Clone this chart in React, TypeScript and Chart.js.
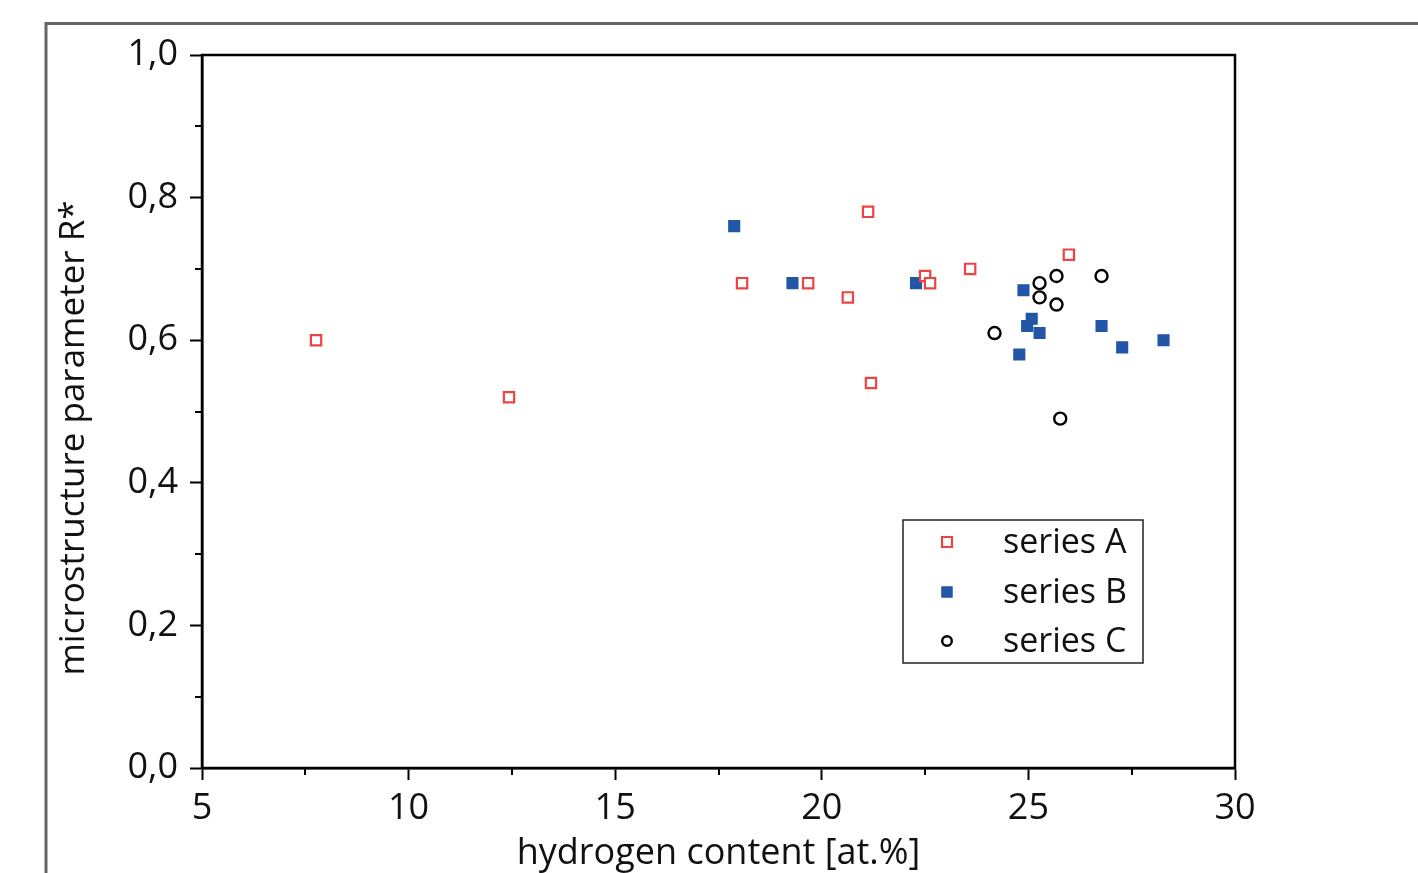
import React, { useEffect, useRef } from "react";
import { Chart, registerables } from "chart.js";

Chart.register(...registerables);

const seriesNames = ["series A", "series B", "series C"];
const seriesAX = [7.76, 12.43, 18.07, 19.67, 20.63, 21.12, 21.19, 22.5, 22.62, 23.59, 25.98];
const seriesAY = [0.6, 0.52, 0.68, 0.68, 0.66, 0.78, 0.54, 0.69, 0.68, 0.7, 0.72];
const seriesBX = [17.88, 19.29, 22.28, 24.88, 25.08, 24.97, 25.27, 24.78, 26.77, 27.27, 28.27];
const seriesBY = [0.76, 0.68, 0.68, 0.67, 0.63, 0.62, 0.61, 0.58, 0.62, 0.59, 0.6];
const seriesCX = [24.18, 25.27, 25.27, 25.68, 25.68, 26.77, 25.77];
const seriesCY = [0.61, 0.68, 0.66, 0.69, 0.65, 0.69, 0.49];

const xTitle = "hydrogen content [at.%]";
const yTitle = "microstructure parameter R*";
const xMin = 5, xMax = 30, xStep = 5, xMinorStep = 2.5;
const yMin = 0, yMax = 1, yStep = 0.2, yMinorStep = 0.1;

const FONT = "'Open Sans', 'Noto Sans', sans-serif";
const RED = "#ee4343";
const BLUE = "#2256a6";

const toPts = (xs: number[], ys: number[]) => xs.map((x, i) => ({ x, y: ys[i] }));

const decorPlugin = {
  id: "decor",
  afterDraw(chart: any) {
    const { ctx, chartArea } = chart;
    const { left, right, top, bottom } = chartArea;
    const xs = chart.scales.x;
    const ys = chart.scales.y;
    ctx.save();
    // outer gray frame
    ctx.strokeStyle = "#646464";
    ctx.lineWidth = 3;
    ctx.beginPath();
    ctx.moveTo(46, 880);
    ctx.lineTo(46, 23.5);
    ctx.lineTo(1430, 23.5);
    ctx.stroke();
    // plot box
    ctx.strokeStyle = "#000";
    ctx.lineWidth = 2.5;
    ctx.strokeRect(left, top, right - left, bottom - top);
    // minor ticks
    ctx.lineWidth = 2;
    ctx.beginPath();
    for (let v = xMin + xMinorStep; v < xMax; v += xStep) {
      const px = Math.round(xs.getPixelForValue(v));
      ctx.moveTo(px, bottom);
      ctx.lineTo(px, bottom + 7);
    }
    for (let v = yMin + yMinorStep; v < yMax; v += yStep) {
      const py = Math.round(ys.getPixelForValue(v));
      ctx.moveTo(left, py);
      ctx.lineTo(left - 7, py);
    }
    ctx.stroke();
    // y title
    ctx.fillStyle = "#111";
    ctx.font = `35px ${FONT}`;
    ctx.textAlign = "center";
    ctx.textBaseline = "middle";
    ctx.translate(74, 438);
    ctx.rotate(-Math.PI / 2);
    ctx.fillText(yTitle, 0, 0);
    ctx.restore();

    // legend
    ctx.save();
    const bx = 903, by = 520, bw = 240, bh = 143;
    ctx.strokeStyle = "#222";
    ctx.lineWidth = 1.5;
    ctx.strokeRect(bx, by, bw, bh);
    const rowY = [542, 592, 641];
    chart.data.datasets.forEach((ds: any, i: number) => {
      const cy = rowY[i];
      const cx = 947;
      ctx.lineWidth = ds.borderWidth;
      ctx.strokeStyle = ds.borderColor;
      ctx.fillStyle = ds.backgroundColor;
      ctx.beginPath();
      if (ds.pointStyle === "circle") {
        ctx.arc(cx, cy, 4.8, 0, Math.PI * 2);
      } else {
        ctx.rect(cx - 5, cy - 5, 10, 10);
      }
      ctx.fill();
      ctx.stroke();
      ctx.fillStyle = "#111";
      ctx.font = `34px ${FONT}`;
      ctx.textAlign = "left";
      ctx.textBaseline = "middle";
      ctx.fillText(ds.label, 1003, cy + 1);
    });
    ctx.restore();
  },
};

export default function App() {
  const ref = useRef<HTMLCanvasElement | null>(null);
  useEffect(() => {
    if (!ref.current) return;
    const chart = new Chart(ref.current, {
      type: "scatter",
      data: {
        datasets: [
          {
            label: seriesNames[0],
            data: toPts(seriesAX, seriesAY),
            pointStyle: "rect",
            pointRadius: 7.3,
            borderWidth: 2.2,
            borderColor: RED,
            backgroundColor: "#ffffff",
          },
          {
            label: seriesNames[1],
            data: toPts(seriesBX, seriesBY),
            pointStyle: "rect",
            pointRadius: 7.5,
            borderWidth: 1.5,
            borderColor: BLUE,
            backgroundColor: BLUE,
          },
          {
            label: seriesNames[2],
            data: toPts(seriesCX, seriesCY),
            pointStyle: "circle",
            pointRadius: 6,
            borderWidth: 2.4,
            borderColor: "#000",
            backgroundColor: "rgba(0,0,0,0)",
          },
        ] as any,
      },
      options: {
        animation: false,
        responsive: false,
        layout: { padding: { left: 0, top: 55, right: 183, bottom: 0 } },
        plugins: { legend: { display: false }, tooltip: { enabled: false } },
        scales: {
          x: {
            type: "linear",
            min: xMin,
            max: xMax,
            afterFit: (s: any) => { s.height = 105; },
            border: { display: true, color: "#000", width: 2.5 },
            grid: { drawOnChartArea: false, drawTicks: true, tickLength: 12, tickWidth: 2, tickColor: "#000" },
            ticks: {
              stepSize: xStep,
              padding: 7,
              color: "#111",
              font: { family: FONT, size: 36 },
              maxRotation: 0,
              callback: (v: any) => String(v),
            },
            title: {
              display: true,
              text: xTitle,
              color: "#111",
              font: { family: FONT, size: 36 },
              padding: { top: 0, bottom: -2 },
            },
          },
          y: {
            type: "linear",
            min: yMin,
            max: yMax,
            afterFit: (s: any) => { s.width = 202; },
            border: { display: true, color: "#000", width: 2.5 },
            grid: { drawOnChartArea: false, drawTicks: true, tickLength: 12, tickWidth: 2, tickColor: "#000" },
            ticks: {
              stepSize: yStep,
              padding: 12,
              color: "#111",
              font: { family: FONT, size: 36 },
              callback: (v: any) => Number(v).toFixed(1).replace(".", ","),
            },
          },
        },
      } as any,
      plugins: [decorPlugin],
    });
    return () => chart.destroy();
  }, []);
  return (
    <div style={{ position: "absolute", left: 0, top: 0, width: 1418, height: 873, background: "#fff" }}>
      <canvas ref={ref} width={1418} height={873} style={{ display: "block" }} />
    </div>
  );
}
